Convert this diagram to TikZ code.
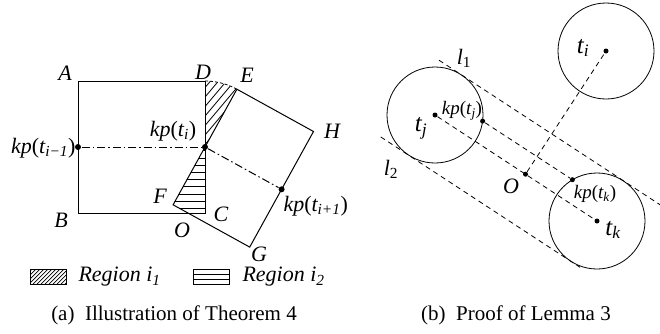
\documentclass[tikz,border=0pt]{standalone}
\usepackage{fontspec}
\setmainfont{Liberation Serif}
\begin{document}
\begin{tikzpicture}[x=1pt,y=-1pt,line width=1pt,
  lbl/.style={font=\fontsize{22}{24}\selectfont\itshape, inner sep=0pt},
  lblr/.style={font=\fontsize{19}{22}\selectfont\itshape, inner sep=0pt},
  lblt/.style={font=\fontsize{25}{28}\selectfont\itshape, inner sep=0pt},
  captxt/.style={font=\fontsize{21}{24}\selectfont, inner sep=0pt},
  dot/.style={circle, fill=black, inner sep=0pt, minimum size=6pt},
  sdot/.style={circle, fill=black, inner sep=0pt, minimum size=5pt},
  dashdot/.style={dash pattern=on 8pt off 3pt on 1.5pt off 3pt},
  dsh/.style={line width=0.8pt, dash pattern=on 5pt off 4pt},
  hatch/.style={line width=0.8pt}]
\useasboundingbox (0,0) rectangle (660,333);
% ---------- (a) ----------
\coordinate (A) at (78,81);
\coordinate (B) at (78,213);
\coordinate (C) at (205,213);
\coordinate (D) at (205,81);
\coordinate (E) at (236.9,89.2);
\coordinate (F) at (173.1,204.8);
\coordinate (G) at (249.7,247.1);
\coordinate (H) at (313.5,131.5);
\coordinate (O) at (187.9,213);
% hatch region i1
\begin{scope}
  \clip (D) arc[start angle=-90,end angle=-61.1,radius=66] -- (205,147) -- cycle;
  \foreach \x in {120,128,...,250} \draw[hatch] (\x,160) -- ++(80,-95);
\end{scope}
% hatch region i2
\begin{scope}
  \clip (205,147) -- (F) -- (O) -- (C) -- cycle;
  \foreach \y in {150.7,157.9,165.1,172.3,179.5,186.7,193.9,201.1,208.3} \draw[hatch] (160,\y) -- (210,\y);
\end{scope}
\draw (A) rectangle (C);
\draw (E) -- (H) -- (G) -- (F) -- cycle;
\draw[line width=0.8pt, dash pattern=on 3pt off 2pt] (D) arc[start angle=-90,end angle=-61.1,radius=66];
\node[dot] (m1) at (78,147) {};
\node[dot] (m2) at (205,147) {};
\node[dot] (m3) at (281.6,189.3) {};
\draw[dashdot] (m1) -- (m2);
\draw[dashdot] (m2) -- (m3);
\node[lbl] (lA) at (65,73) {A};
\node[lbl] (lB) at (61,220) {B};
\node[lbl] (lC) at (221,214) {C};
\node[lbl] (lD) at (203,72) {D};
\node[lbl] (lE) at (247,75) {E};
\node[lbl] (lH) at (332,131) {H};
\node[lbl] (lF) at (160,196) {F};
\node[lbl] (lO) at (182,230) {O};
\node[lbl] (lG) at (259,254) {G};
\node[lbl, anchor=east] (k1) at (76,148) {kp\upshape(\itshape t\textsubscript{i−1}\upshape)};
\node[lbl] (k2) at (173,131) {kp\upshape(\itshape t\textsubscript{i}\upshape)};
\node[lbl, anchor=west] (k3) at (283,206) {kp\upshape(\itshape t\textsubscript{i+1}\upshape)};
% legend
\begin{scope}
  \clip (30,269) rectangle (66,284);
  \foreach \x in {0,4,...,60} \draw[line width=0.7pt] (\x+15,286) -- ++(20,-20);
\end{scope}
\draw[line width=0.8pt] (30,269) rectangle (66,284);
\draw[line width=0.8pt] (193,269) rectangle (229,284);
\draw[line width=0.8pt] (193,274) -- (229,274) (193,279) -- (229,279);
\node[lbl, anchor=west] (r1) at (78,277) {Region i\textsubscript{1}};
\node[lbl, anchor=west] (r2) at (242,277) {Region i\textsubscript{2}};
\node[captxt] (capa) at (174,315) {(a)\ \ Illustration of Theorem 4};
% ---------- (b) ----------
\node[sdot] (ti) at (606,51) {};
\node[sdot] (tj) at (435,115) {};
\node[sdot] (tk) at (597,221) {};
\node[sdot] (o) at (525.5,174.2) {};
\node[sdot] (kj) at (482.6,121.1) {};
\node[sdot] (kk) at (572.4,179.7) {};
\draw[line width=0.8pt] (ti) circle[radius=48];
\draw[line width=0.8pt] (tj) circle[radius=48];
\draw[line width=0.8pt] (tk) circle[radius=48];
\coordinate (l1a) at (439,60.2);
\coordinate (l1b) at (660,204.7);
\coordinate (l2a) at (380.7,136.9);
\coordinate (l2b) at (580,267.3);
\draw[dsh] (l1a) -- (l1b);
\draw[dsh] (l2a) -- (l2b);
\draw[dsh] (tj) -- (tk);
\draw[dsh] (kj) -- (kk);
\draw[dsh] (o) -- (ti);
\node[lblt] (lti) at (583,48) {t\textsubscript{i}};
\node[lblt] (ltj) at (421,128) {t\textsubscript{j}};
\node[lblt] (ltk) at (613,230) {t\textsubscript{k}};
\node[lblr] (lkj) at (462,111) {kp\upshape(\itshape t\textsubscript{j}\upshape)};
\node[lblr] (lkk) at (595,194) {kp\upshape(\itshape t\textsubscript{k}\upshape)};
\node[lbl] (lo) at (511,186) {O};
\node[lbl] (ll1) at (464,58) {l\textsubscript{\upshape 1}};
\node[lbl] (ll2) at (391,169) {l\textsubscript{\upshape 2}};
\node[captxt] (capb) at (516,315) {(b)\ \ Proof of Lemma 3};
\end{tikzpicture}
\end{document}
